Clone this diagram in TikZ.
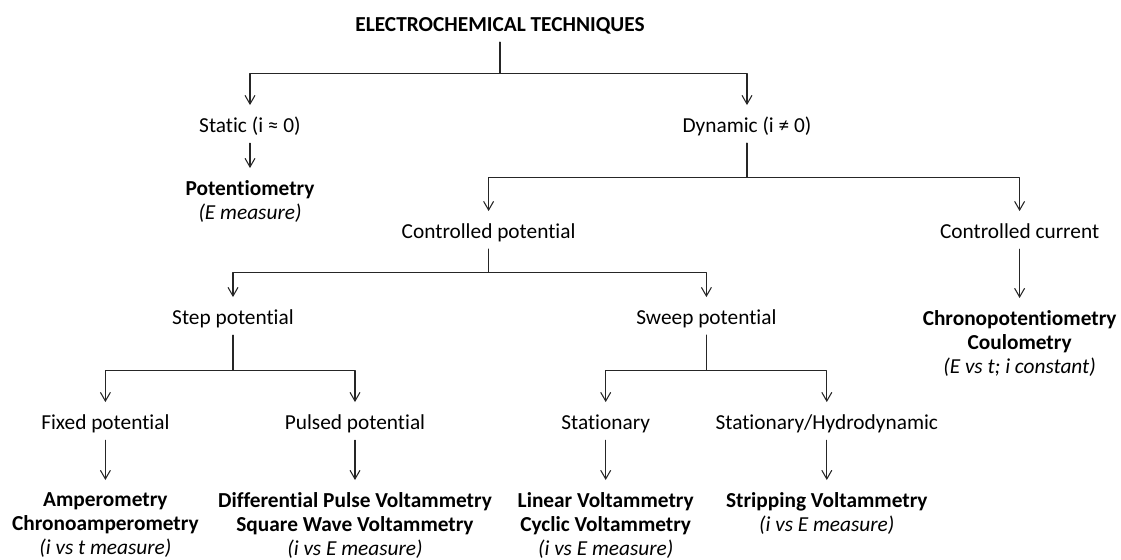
\documentclass[tikz,border=0pt]{standalone}
\usepackage{fontspec}
\setmainfont[Ligatures=NoCommon]{Carlito}
\usetikzlibrary{arrows.meta}

\begin{document}
\begin{tikzpicture}[
  x=0.75pt, y=-0.75pt,  % pixel grid of the reference, y pointing down
  every path/.style={line cap=round, line join=round},
  lbl/.style={font=\fontsize{16}{18}\selectfont, text height=11pt, text depth=1pt, inner xsep=2pt, inner ysep=6.75pt},
  leaf/.style={font=\fontsize{16}{18}\selectfont, align=center, anchor=north, inner sep=0pt},
  link/.style={draw=black!85, line width=0.8pt},
  arr/.style={link, -{Straight Barb[length=6.5pt,width=7.5pt]}, shorten >=2.75pt},
  arrleaf/.style={arr, shorten >=9pt}
]
\useasboundingbox (0,0) rectangle (1121,560);

% ---------------- Top levels ----------------
\node[lbl, font=\fontsize{16}{18}\selectfont\bfseries] (tech) at (500,25) {ELECTROCHEMICAL TECHNIQUES};
\node[lbl] (static) at (250,126) {Static (i ≈ 0)};
\node[lbl] (dyn) at (747,126) {Dynamic (i ≠ 0)};
\node[leaf] (pot) at (250,180) {\textbf{Potentiometry}\\\textit{(E measure)}};

\node[lbl] (cpot) at (488.6,232) {Controlled potential};
\node[lbl] (ccur) at (1019.6,232) {Controlled current};
\node[leaf] (chrono) at (1019.6,310) {\textbf{Chronopotentiometry}\\\textbf{Coulometry}\\\textit{(E vs t; i constant)}};

\node[lbl] (step) at (233,318) {Step potential};
\node[lbl] (sweep) at (706.4,318) {Sweep potential};

% ---------------- Bottom level ----------------
\node[lbl] (fixed) at (105.4,423) {Fixed potential};
\node[lbl] (pulsed) at (355,423) {Pulsed potential};
\node[lbl] (stat) at (605.7,423) {Stationary};
\node[lbl] (hydro) at (826.8,423) {Stationary/Hydrodynamic};

\node[leaf] (ampero) at (105.4,492) {\textbf{Amperometry}\\\textbf{Chronoamperometry}\\\textit{(i vs t measure)}};
\node[leaf] (pulsevolt) at (355,492) {\textbf{Differential Pulse Voltammetry}\\\textbf{Square Wave Voltammetry}\\\textit{(i vs E measure)}};
\node[leaf] (linvolt) at (605.7,492) {\textbf{Linear Voltammetry}\\\textbf{Cyclic Voltammetry}\\\textit{(i vs E measure)}};
\node[leaf] (strip) at (826.8,492) {\textbf{Stripping Voltammetry}\\\textit{(i vs E measure)}};

% ---------------- Branches ----------------
\draw[arr] (tech.south) -- ++(0,31) -| (static.north);
\draw[arr] (tech.south) -- ++(0,31) -| (dyn.north);
\draw[arrleaf] (static.south) -- (pot.north);

\draw[arr] (dyn.south) -- ++(0,34) -| (cpot.north);
\draw[arr] (dyn.south) -- ++(0,34) -| (ccur.north);
\draw[arrleaf] (ccur.south) -- (chrono.north);

\draw[arr] (cpot.south) -- ++(0,23) -| (step.north);
\draw[arr] (cpot.south) -- ++(0,23) -| (sweep.north);

\draw[arr] (step.south) -- ++(0,35) -| (fixed.north);
\draw[arr] (step.south) -- ++(0,35) -| (pulsed.north);
\draw[arr] (sweep.south) -- ++(0,35) -| (stat.north);
\draw[arr] (sweep.south) -- ++(0,35) -| (hydro.north);

% leaves
\draw[arrleaf] (fixed.south) -- (ampero.north);
\draw[arrleaf] (pulsed.south) -- (pulsevolt.north);
\draw[arrleaf] (stat.south) -- (linvolt.north);
\draw[arrleaf] (hydro.south) -- (strip.north);

\end{tikzpicture}
\end{document}
